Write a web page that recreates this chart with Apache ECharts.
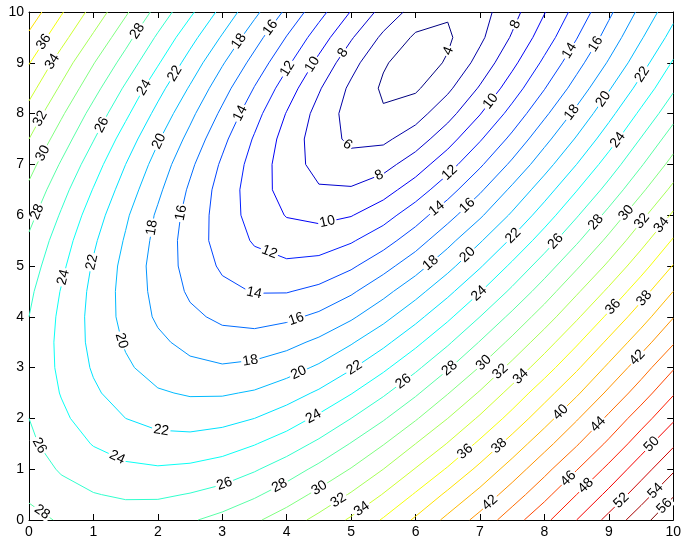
<!DOCTYPE html>
<html><head><meta charset="utf-8">
<script src="https://cdn.jsdelivr.net/npm/echarts@6/dist/echarts.min.js"></script>
<style>html,body{margin:0;padding:0;background:#fff;}#chart{width:684px;height:539px;}</style>
</head><body><div id="chart"></div>
<script>
// grid coordinates (0..10 step 0.5)
const xs = [0,0.5,1,1.5,2,2.5,3,3.5,4,4.5,5,5.5,6,6.5,7,7.5,8,8.5,9,9.5,10];
const ys = [0,0.5,1,1.5,2,2.5,3,3.5,4,4.5,5,5.5,6,6.5,7,7.5,8,8.5,9,9.5,10];
// z values per row (row k is y = ys[k])
const zY00 = [28.6,27.8,27.3,27.2,27.3,27.8,28.6,29.7,31.0,32.6,34.3,36.2,38.3,40.5,42.7,45.1,47.5,50.0,52.6,55.2,57.8];
const zY05 = [27.7,26.7,26.1,25.7,25.7,26.1,26.7,27.7,29.0,30.5,32.2,34.1,36.2,38.4,40.6,43.0,45.4,48.0,50.5,53.1,55.8];
const zY10 = [27.0,25.8,24.9,24.4,24.2,24.4,24.9,25.8,27.0,28.5,30.1,32.0,34.1,36.2,38.5,40.9,43.4,45.9,48.5,51.1,53.7];
const zY15 = [26.4,25.0,23.9,23.1,22.7,22.7,23.1,23.9,25.0,26.4,28.1,29.9,32.0,34.1,36.4,38.8,41.3,43.8,46.4,49.1,51.7];
const zY20 = [26.0,24.4,23.0,22.0,21.4,21.2,21.4,22.0,23.0,24.4,26.0,27.8,29.8,32.0,34.3,36.7,39.2,41.8,44.4,47.1,49.7];
const zY25 = [25.7,23.9,22.3,21.1,20.2,19.8,19.8,20.2,21.1,22.3,23.9,25.7,27.7,29.9,32.2,34.7,37.2,39.7,42.4,45.0,47.8];
const zY30 = [25.6,23.6,21.8,20.3,19.2,18.5,18.2,18.5,19.2,20.3,21.8,23.6,25.6,27.8,30.1,32.6,35.1,37.7,40.4,43.1,45.8];
const zY35 = [25.7,23.5,21.5,19.8,18.4,17.4,16.8,16.8,17.4,18.4,19.8,21.5,23.5,25.7,28.1,30.5,33.1,35.7,38.4,41.1,43.8];
const zY40 = [26.0,23.6,21.4,19.4,17.7,16.4,15.6,15.3,15.6,16.4,17.7,19.4,21.4,23.6,26.0,28.5,31.0,33.7,36.4,39.1,41.9];
const zY45 = [26.4,23.9,21.5,19.3,17.4,15.7,14.5,13.9,13.9,14.5,15.7,17.4,19.3,21.5,23.9,26.4,29.0,31.7,34.4,37.2,40.0];
const zY50 = [27.0,24.4,21.8,19.4,17.2,15.3,13.7,12.7,12.4,12.7,13.7,15.3,17.2,19.4,21.8,24.4,27.0,29.7,32.4,35.2,38.1];
const zY55 = [27.7,25.0,22.3,19.8,17.4,15.1,13.2,11.8,11.0,11.0,11.8,13.2,15.1,17.4,19.8,22.3,25.0,27.7,30.5,33.3,36.2];
const zY60 = [28.6,25.8,23.0,20.3,17.7,15.3,13.1,11.2,9.9,9.5,9.9,11.2,13.1,15.3,17.7,20.3,23.0,25.8,28.6,31.5,34.3];
const zY65 = [29.6,26.7,23.9,21.1,18.4,15.7,13.2,11.0,9.2,8.2,8.2,9.2,11.0,13.2,15.7,18.4,21.1,23.9,26.7,29.6,32.5];
const zY70 = [30.7,27.8,24.9,22.0,19.2,16.4,13.7,11.2,9.0,7.3,6.7,7.3,9.0,11.2,13.7,16.4,19.2,22.0,24.9,27.8,30.7];
const zY75 = [32.0,29.0,26.1,23.1,20.2,17.4,14.5,11.8,9.2,7.0,5.6,5.6,7.0,9.2,11.8,14.5,17.4,20.2,23.1,26.1,29.0];
const zY80 = [33.3,30.3,27.3,24.4,21.4,18.5,15.6,12.7,9.9,7.3,5.2,4.2,5.2,7.3,9.9,12.7,15.6,18.5,21.4,24.4,27.3];
const zY85 = [34.7,31.7,28.7,25.7,22.7,19.8,16.8,13.9,11.0,8.2,5.6,3.7,3.7,5.6,8.2,11.0,13.9,16.8,19.8,22.7,25.7];
const zY90 = [36.1,33.1,30.1,27.2,24.2,21.2,18.2,15.3,12.4,9.5,6.7,4.2,3.0,4.2,6.7,9.5,12.4,15.3,18.2,21.2,24.2];
const zY95 = [37.6,34.7,31.7,28.7,25.7,22.7,19.8,16.8,13.9,11.0,8.2,5.6,3.7,3.7,5.6,8.2,11.0,13.9,16.8,19.8,22.7];
const zY100 = [39.2,36.2,33.3,30.3,27.3,24.4,21.4,18.5,15.6,12.7,9.9,7.3,5.2,4.2,5.2,7.3,9.9,12.7,15.6,18.5,21.4];
// contour levels
const levels = [4,6,8,10,12,14,16,18,20,22,24,26,28,30,32,34,36,38,40,42,44,46,48,50,52,54,56];
// axis ticks
const xTicks = [0,1,2,3,4,5,6,7,8,9,10];
const yTicks = [0,1,2,3,4,5,6,7,8,9,10];

const Z = [zY00,zY05,zY10,zY15,zY20,zY25,zY30,zY35,zY40,zY45,zY50,zY55,zY60,zY65,zY70,zY75,zY80,zY85,zY90,zY95,zY100];

function clamp(v){return Math.max(0,Math.min(1,v));}
function jet(t){
  const r=clamp(1.5-Math.abs(4*t-3)), g=clamp(1.5-Math.abs(4*t-2)), b=clamp(1.5-Math.abs(4*t-1));
  return 'rgb('+Math.round(r*255)+','+Math.round(g*255)+','+Math.round(b*255)+')';
}

// marching squares
function contour(L){
  const nx=xs.length, ny=ys.length, segs=[];
  for(let j=0;j<ny-1;j++)for(let i=0;i<nx-1;i++){
    const v00=Z[j][i], v10=Z[j][i+1], v01=Z[j+1][i], v11=Z[j+1][i+1];
    const pts=[];
    const edge=(va,vb,key,ax,ay,bx,by)=>{
      if((va<L)!==(vb<L)){const t=(L-va)/(vb-va);pts.push({key:key,x:ax+t*(bx-ax),y:ay+t*(by-ay)});}
    };
    edge(v00,v10,'h'+i+'_'+j,xs[i],ys[j],xs[i+1],ys[j]);
    edge(v10,v11,'v'+(i+1)+'_'+j,xs[i+1],ys[j],xs[i+1],ys[j+1]);
    edge(v11,v01,'h'+i+'_'+(j+1),xs[i+1],ys[j+1],xs[i],ys[j+1]);
    edge(v01,v00,'v'+i+'_'+j,xs[i],ys[j+1],xs[i],ys[j]);
    if(pts.length===2)segs.push([pts[0],pts[1]]);
    else if(pts.length===4){
      const c=(v00+v10+v01+v11)/4;
      if((c<L)===(v00<L)){segs.push([pts[0],pts[1]]);segs.push([pts[2],pts[3]]);}
      else{segs.push([pts[0],pts[3]]);segs.push([pts[1],pts[2]]);}
    }
  }
  const map=new Map();
  segs.forEach((s,idx)=>{for(const p of s){if(!map.has(p.key))map.set(p.key,[]);map.get(p.key).push(idx);}});
  const used=new Array(segs.length).fill(false);
  const lines=[];
  function trace(idx,ent){
    const line=[segs[idx][ent]];let cur=idx;
    while(true){
      used[cur]=true;
      const out=segs[cur][1-ent];line.push(out);
      const cand=map.get(out.key).filter(k=>!used[k]);
      if(!cand.length)break;
      cur=cand[0];ent=segs[cur][0].key===out.key?0:1;
    }
    return line;
  }
  const ends=[];
  segs.forEach((s,idx)=>{s.forEach((p,e)=>{if(map.get(p.key).length===1)ends.push({idx:idx,e:e,p:p});});});
  const rank=p=>(Math.abs(p.y-10)<1e-9?0:(Math.abs(p.y)<1e-9?1:(Math.abs(p.x)<1e-9?2:3)));
  ends.sort((a,b)=>rank(a.p)-rank(b.p));
  for(const en of ends){if(!used[en.idx])lines.push(trace(en.idx,en.e));}
  for(let k=0;k<segs.length;k++){if(!used[k])lines.push(trace(k,0));}
  return lines.map(l=>l.map(p=>[p.x,p.y]));
}

const chart=echarts.init(document.getElementById('chart'),null,{renderer:'canvas'});
const FONT='"Liberation Sans", Arial, Helvetica, sans-serif';
const lineSeries=[];
const polys=[];
levels.forEach(L=>{
  const color=jet((L-levels[0])/(levels[levels.length-1]-levels[0]));
  contour(L).forEach((pl,k)=>{
    polys.push({L:L,k:k,pts:pl});
    lineSeries.push({type:'line',data:pl,symbol:'none',silent:true,animation:false,
      lineStyle:{color:color,width:1},xAxisIndex:0,yAxisIndex:0,z:2});
  });
});

function axisBase(pos,showLabel){
  return {type:'value',min:0,max:10,interval:1,position:pos,
    axisLine:{show:true,onZero:false,lineStyle:{color:'#000',width:1}},
    axisTick:{show:true,inside:true,length:6,lineStyle:{color:'#000'}},
    axisLabel:{show:showLabel,color:'#000',fontSize:14,fontFamily:FONT,margin:5,
      formatter:v=>String(v)},
    splitLine:{show:false}};
}
const option={
  animation:false,
  backgroundColor:'#fff',
  grid:{left:29,top:12,width:646,height:509,containLabel:false},
  xAxis:[axisBase('bottom',true),axisBase('top',false)],
  yAxis:[axisBase('left',true),axisBase('right',false)],
  series:lineSeries
};
chart.setOption(option);

// label placement along each contour line (screen space)
const SPACING=207;
function hash(a){const s=Math.sin(a)*43758.5453;return s-Math.floor(s);}
const labelData=[];
polys.forEach(pl=>{
  const px=pl.pts.map(p=>chart.convertToPixel({gridIndex:0},p));
  const cum=[0];
  for(let i=1;i<px.length;i++)cum.push(cum[i-1]+Math.hypot(px[i][0]-px[i-1][0],px[i][1]-px[i-1][1]));
  const Ltot=cum[cum.length-1];
  if(Ltot<27)return;
  const at=s=>{
    let i=1;while(i<cum.length-1&&cum[i]<s)i++;
    const seg=cum[i]-cum[i-1]||1;const t=(s-cum[i-1])/seg;
    return [px[i-1][0]+t*(px[i][0]-px[i-1][0]),px[i-1][1]+t*(px[i][1]-px[i-1][1])];
  };
  const span=Math.min(Ltot,SPACING);
  let s=12+hash(pl.L*7.31+pl.k*3.17)*(span-24);
  for(;s<Ltot-11;s+=SPACING){
    const p=at(s), a=at(Math.max(0,s-8)), b=at(Math.min(Ltot,s+8));
    let rot=Math.atan2(-(b[1]-a[1]),b[0]-a[0]);
    if(rot>Math.PI/2)rot-=Math.PI; if(rot<=-Math.PI/2)rot+=Math.PI;
    const d=chart.convertFromPixel({gridIndex:0},p);
    labelData.push([d[0],d[1],rot,pl.L]);
  }
});

const labelSeries={type:'custom',coordinateSystem:'cartesian2d',xAxisIndex:0,yAxisIndex:0,
  silent:true,animation:false,clip:false,z:10,data:labelData,
  renderItem:(params,api)=>{
    const c=api.coord([api.value(0),api.value(1)]);
    const txt=String(api.value(3));
    const w=txt.length*7.8+3,h=12;
    return {type:'group',x:c[0],y:c[1],rotation:api.value(2),children:[
      {type:'rect',shape:{x:-w/2,y:-h/2,width:w,height:h},style:{fill:'#fff'}},
      {type:'text',style:{text:txt,x:0,y:0,align:'center',verticalAlign:'middle',
        textAlign:'center',textVerticalAlign:'middle',fontSize:14,fontFamily:FONT,fill:'#000'}}
    ]};
  }};
chart.setOption({series:lineSeries.concat([labelSeries])});
</script></body></html>
